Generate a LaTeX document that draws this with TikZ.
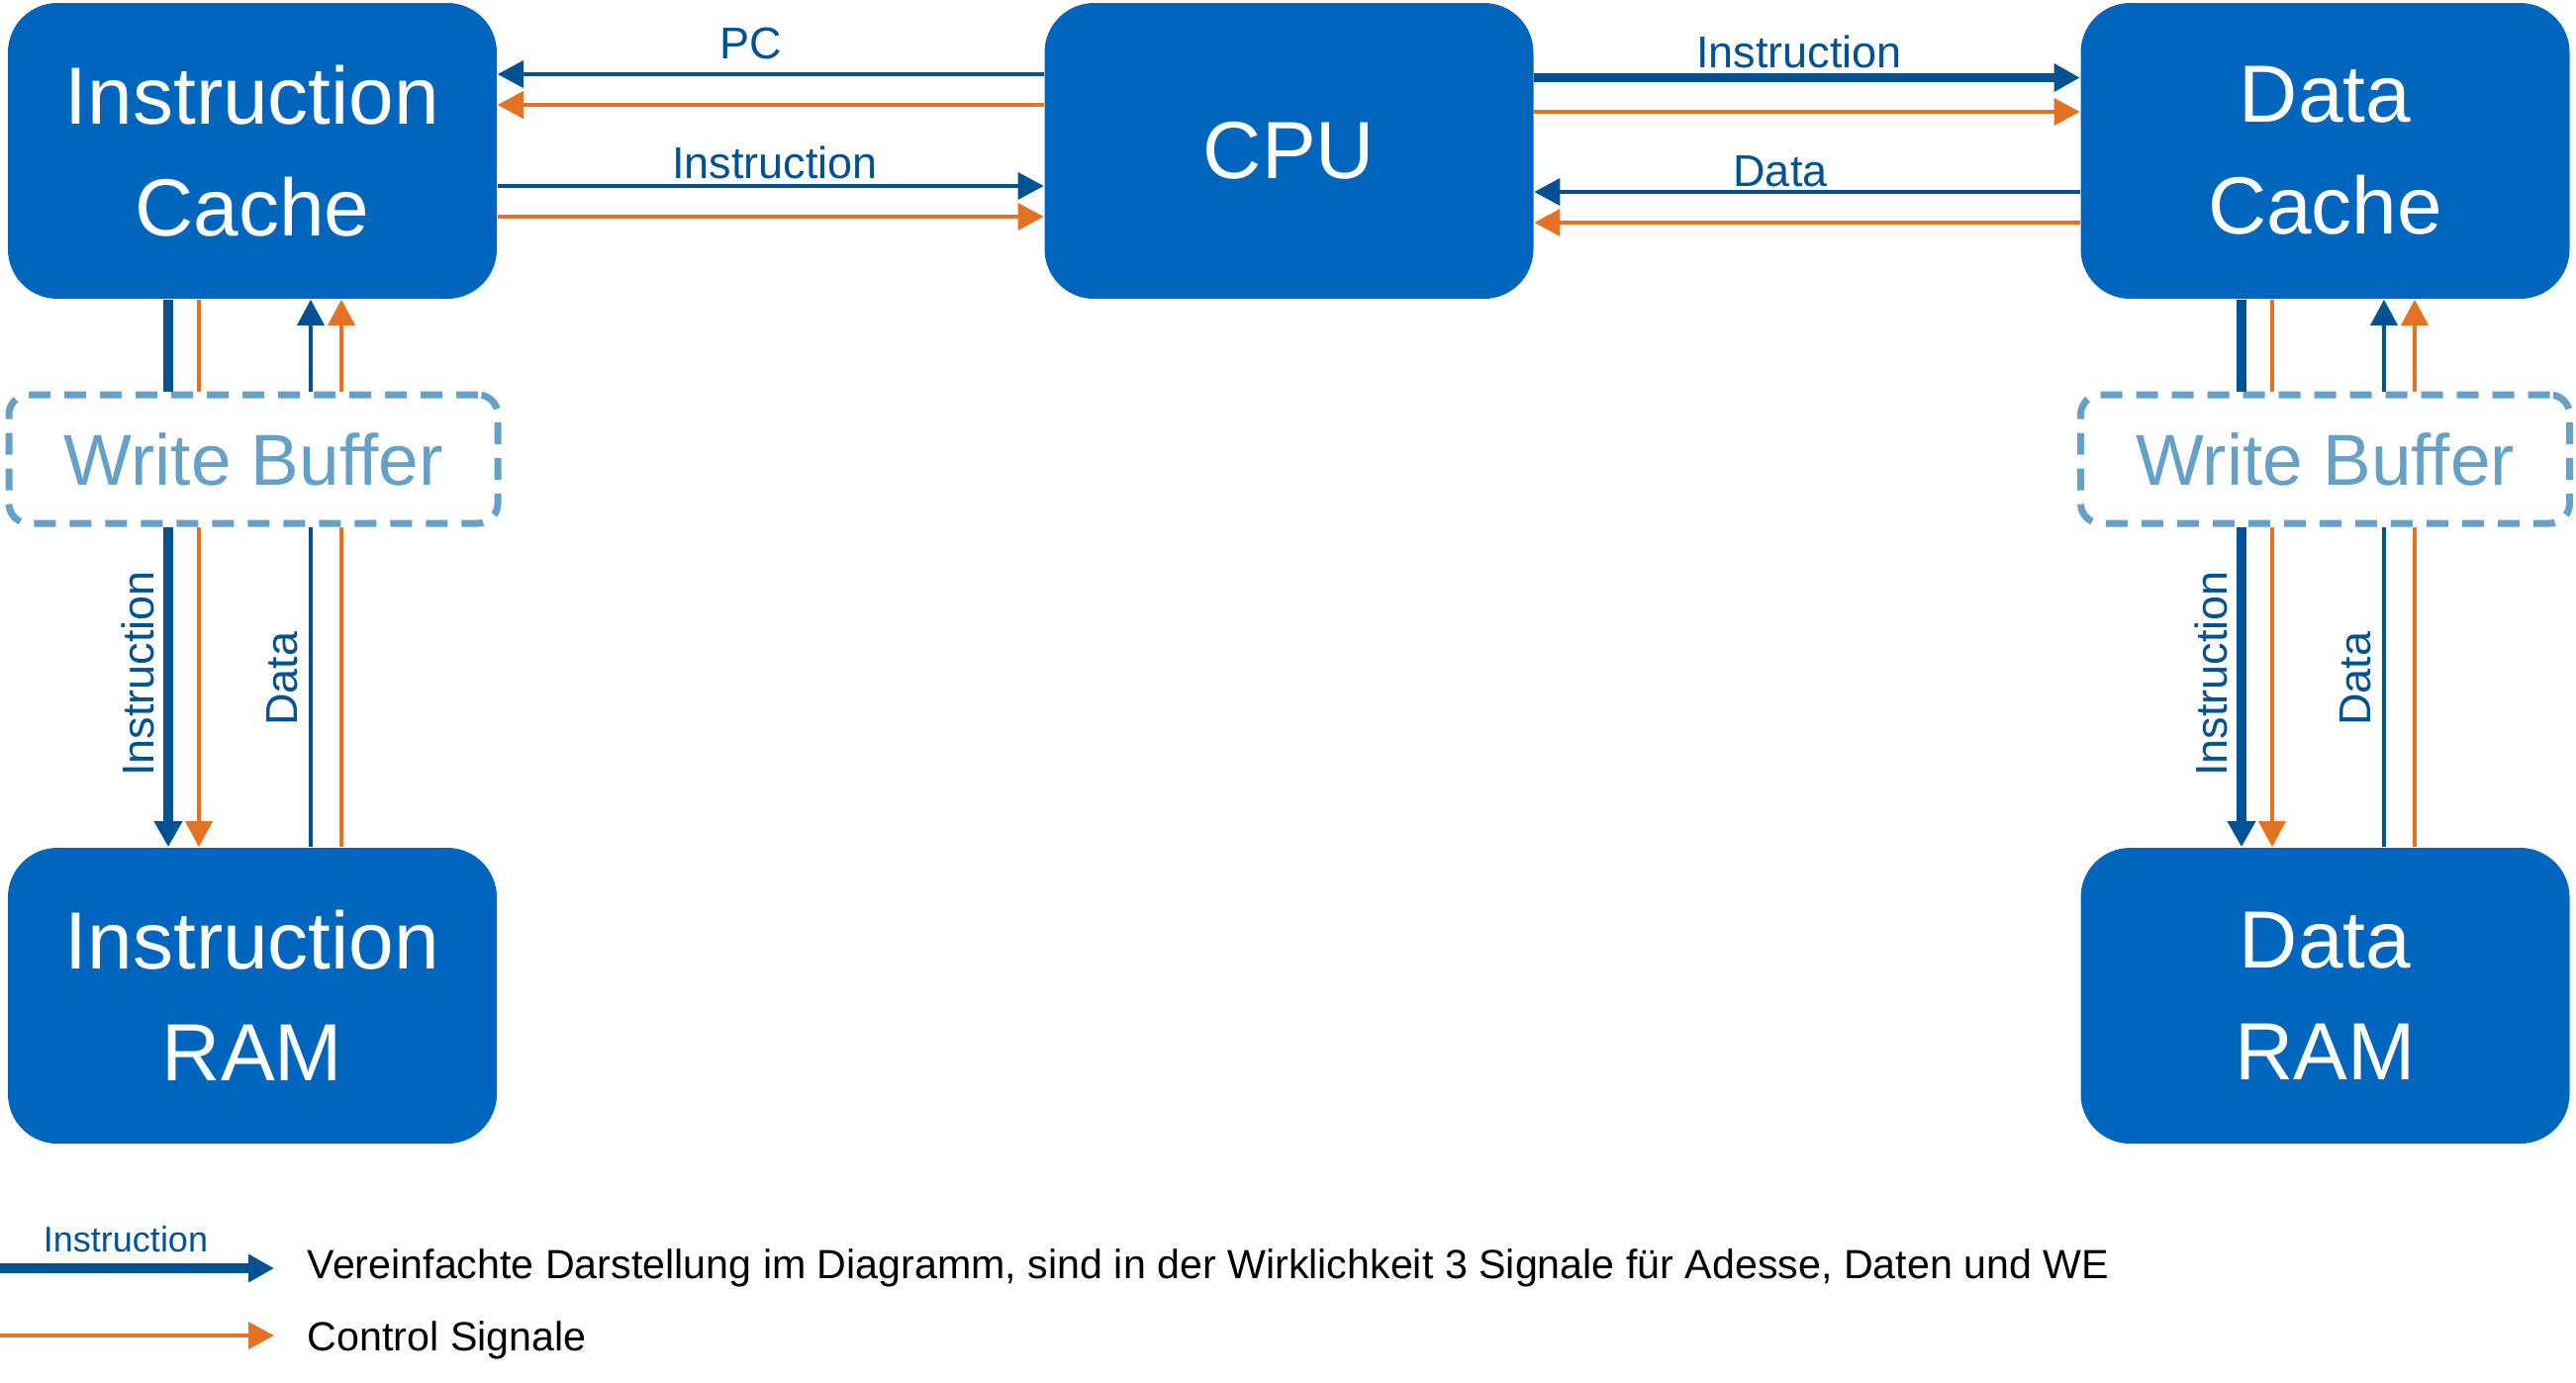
\documentclass[tikz,border=0pt]{standalone}
\usepackage{fontspec}
\setmainfont{Liberation Sans}
\usetikzlibrary{arrows.meta}
\definecolor{tumblue}{RGB}{0,101,189}
\definecolor{tumdark}{RGB}{0,82,147}
\definecolor{tumlight}{RGB}{100,160,200}
\definecolor{tumorange}{RGB}{227,114,34}
\begin{document}
\begin{tikzpicture}[x=0.25pt,y=0.25pt,yscale=-1,xscale=1,
  unit/.style={fill=tumblue, rounded corners=12.5pt, minimum width=123.5pt, minimum height=74.75pt, inner sep=0pt, text=white, align=center, font=\fontsize{20.5}{28.25}\selectfont},
  wbuf/.style={draw=tumlight, line width=1.75pt, dash pattern=on 5.5pt off 3.5pt, rounded corners=5pt, minimum width=123.5pt, minimum height=32.5pt, inner sep=0pt, text=tumlight, font=\fontsize{18.25}{22}\selectfont},
  bus/.style={draw=tumdark, line width=2.3pt},
  sig/.style={draw=tumdark, line width=0.9pt},
  ctl/.style={draw=tumorange, line width=0.9pt},
  tip/.style={-{Triangle[width=6.75pt,length=6.5pt]}},
  lbl/.style={text=tumdark, inner sep=0pt, anchor=base, font=\fontsize{11.25}{13}\selectfont}]
\useasboundingbox (0,0) rectangle (2603,1397);
\node [unit] (icache) at (255,152.5) {Instruction\\Cache};
\node [unit] (cpu) at (1302.5,152.5) {CPU};
\node [unit] (dcache) at (2349.5,152.5) {Data\\Cache};
\node [wbuf] (wbI) at (256,464) {Write Buffer};
\node [wbuf] (wbD) at (2349.5,464) {Write Buffer};
\node [unit] (iram) at (255,1006.5) {Instruction\\RAM};
\node [unit] (dram) at (2349.5,1006.5) {Data\\RAM};
\draw [sig,tip] (cpu.west |- 0,75) -- (icache.east |- 0,75);
\draw [ctl,tip] (cpu.west |- 0,106) -- (icache.east |- 0,106);
\draw [sig,tip] (icache.east |- 0,188) -- (cpu.west |- 0,188);
\draw [ctl,tip] (icache.east |- 0,219) -- (cpu.west |- 0,219);
\draw [bus,tip] (cpu.east |- 0,78.5) -- (dcache.west |- 0,78.5);
\draw [ctl,tip] (cpu.east |- 0,113) -- (dcache.west |- 0,113);
\draw [sig,tip] (dcache.west |- 0,194) -- (cpu.east |- 0,194);
\draw [ctl,tip] (dcache.west |- 0,225) -- (cpu.east |- 0,225);
\node [lbl] (pcL) at (759,59) {PC};
\node [lbl] (instrL) at (783,180) {Instruction};
\node [lbl] (instrR) at (1818,68) {Instruction};
\node [lbl] (dataR) at (1799,188) {Data};
\draw [bus] (icache.south -| 170,0) -- (wbI.north -| 170,0);
\draw [ctl] (icache.south -| 201,0) -- (wbI.north -| 201,0);
\draw [sig,tip] (wbI.north -| 314,0) -- (icache.south -| 314,0);
\draw [ctl,tip] (wbI.north -| 345,0) -- (icache.south -| 345,0);
\draw [bus,tip] (wbI.south -| 170,0) -- (iram.north -| 170,0);
\draw [ctl,tip] (wbI.south -| 201,0) -- (iram.north -| 201,0);
\draw [sig] (iram.north -| 314,0) -- (wbI.south -| 314,0);
\draw [ctl] (iram.north -| 345,0) -- (wbI.south -| 345,0);
\node [lbl,rotate=90] (instrIV) at (155,681) {Instruction};
\node [lbl,rotate=90] (dataIV) at (300,686) {Data};
\draw [bus] (dcache.south -| 2265,0) -- (wbD.north -| 2265,0);
\draw [ctl] (dcache.south -| 2296,0) -- (wbD.north -| 2296,0);
\draw [sig,tip] (wbD.north -| 2409,0) -- (dcache.south -| 2409,0);
\draw [ctl,tip] (wbD.north -| 2440,0) -- (dcache.south -| 2440,0);
\draw [bus,tip] (wbD.south -| 2265,0) -- (dram.north -| 2265,0);
\draw [ctl,tip] (wbD.south -| 2296,0) -- (dram.north -| 2296,0);
\draw [sig] (dram.north -| 2409,0) -- (wbD.south -| 2409,0);
\draw [ctl] (dram.north -| 2440,0) -- (wbD.south -| 2440,0);
\node [lbl,rotate=90] (instrDV) at (2250,681) {Instruction};
\node [lbl,rotate=90] (dataDV) at (2395,686) {Data};
\coordinate (legBusA) at (0,1282);
\coordinate (legBusB) at (277,1282);
\coordinate (legCtlA) at (0,1350);
\coordinate (legCtlB) at (277,1350);
\draw [bus,tip] (legBusA) -- (legBusB);
\draw [ctl,tip] (legCtlA) -- (legCtlB);
\node [lbl,font=\fontsize{9}{11}\selectfont] (legInstr) at (127,1265) {Instruction};
\node [anchor=base west, inner sep=0pt, font=\fontsize{10.3}{12}\selectfont] (legBusT) at (310,1292) {Vereinfachte Darstellung im Diagramm, sind in der Wirklichkeit 3 Signale für Adesse, Daten und WE};
\node [anchor=base west, inner sep=0pt, font=\fontsize{10.3}{12}\selectfont] (legCtlT) at (310,1365) {Control Signale};
\end{tikzpicture}
\end{document}
